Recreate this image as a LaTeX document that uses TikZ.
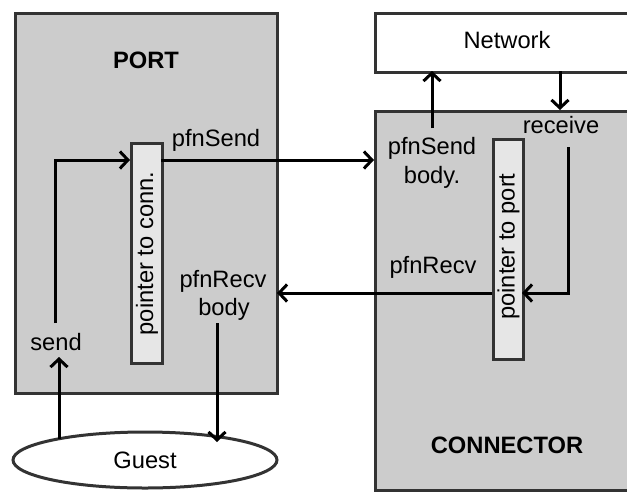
\documentclass[tikz,border=0pt]{standalone}
\usepackage{fontspec}
\setmainfont{Liberation Sans}
\usetikzlibrary{arrows.meta,shapes.geometric}
\definecolor{boxgray}{HTML}{CCCCCC}
\definecolor{ptrgray}{HTML}{E6E6E6}
\definecolor{boxline}{HTML}{333333}
\begin{document}
\begin{tikzpicture}[x=1pt,y=-1pt,
  box/.style={draw=boxline, line width=3pt, fill=boxgray, inner sep=0pt, anchor=north west},
  ptrbox/.style={draw=boxline, line width=3pt, fill=ptrgray, inner sep=0pt, anchor=north west},
  lbl/.style={font=\fontsize{23.7}{28}\selectfont, inner sep=0pt, anchor=base},
  boldlbl/.style={lbl, font=\fontsize{23.7}{28}\selectfont\bfseries},
  arr/.style={line width=3pt, -{Straight Barb[length=8pt,width=17pt]}}]
\clip (0,0) rectangle (627,491);
\fill[white] (0,0) rectangle (627,491);
% boxes
\node[box, minimum width=262pt, minimum height=380pt] (port) at (14,12) {};
\node[box, fill=white, minimum width=275pt, minimum height=59pt] (net) at (374,12) {};
\node[box, minimum width=275pt, minimum height=379pt] (conn) at (374,110) {};
\node[ptrbox, minimum width=31pt, minimum height=220pt] (pconn) at (130,142) {};
\node[ptrbox, minimum width=30pt, minimum height=220pt] (pport) at (492,138) {};
\node[draw=boxline, line width=3pt, fill=white, ellipse, inner sep=0pt,
      minimum width=264pt, minimum height=56pt, font=\fontsize{23.7}{28}\selectfont] (guest) at (145,460) {Guest};
% rotated labels
\node[lbl, anchor=center, rotate=90] (pconnt) at (pconn.center) {pointer to conn.};
\node[lbl, anchor=center, rotate=90] (pportt) at ([yshift=3pt]pport.center) {pointer to port};
% labels
\node[boldlbl] (portl) at (146,68) {PORT};
\node[lbl] (netl) at (507,48) {Network};
\node[boldlbl] (connl) at (507,453) {CONNECTOR};
\node[lbl] (pfnsend) at (216,146) {pfnSend};
\node[lbl] (sbody1) at (432,154) {pfnSend};
\node[lbl] (sbody2) at (432,183) {body.};
\node[lbl] (recv) at (561,133) {receive};
\node[lbl] (pfnrecv) at (433,273) {pfnRecv};
\node[lbl] (rbody1) at (223,287) {pfnRecv};
\node[lbl] (rbody2) at (224,315) {body};
\node[lbl] (send) at (56,350) {send};
% connector end points
\coordinate (gs) at (59,439);
\coordinate (sendS) at (59,357);
\coordinate (sendN) at (55,323);
\coordinate (pconnIn) at (130,160);
\coordinate (pconnOut) at (161,160);
\coordinate (connIn) at (374,160);
\coordinate (sbTop) at (432,128);
\coordinate (netIn) at (432,71);
\coordinate (netOut) at (560,71);
\coordinate (connTop) at (560,110);
\coordinate (recvS) at (568,147);
\coordinate (pportIn) at (522,293);
\coordinate (pportOut) at (492,293);
\coordinate (portIn) at (277,293);
\coordinate (rbS) at (217,323);
\coordinate (guestIn) at (217,442);
% connectors
\draw[arr] (gs) -- (sendS);
\draw[arr] (sendN) |- (pconnIn);
\draw[arr] (pconnOut) -- (connIn);
\draw[arr] (sbTop) -- (netIn);
\draw[arr] (netOut) -- (connTop);
\draw[arr] (recvS) |- (pportIn);
\draw[arr] (pportOut) -- (portIn);
\draw[arr] (rbS) -- (guestIn);
\end{tikzpicture}
\end{document}
